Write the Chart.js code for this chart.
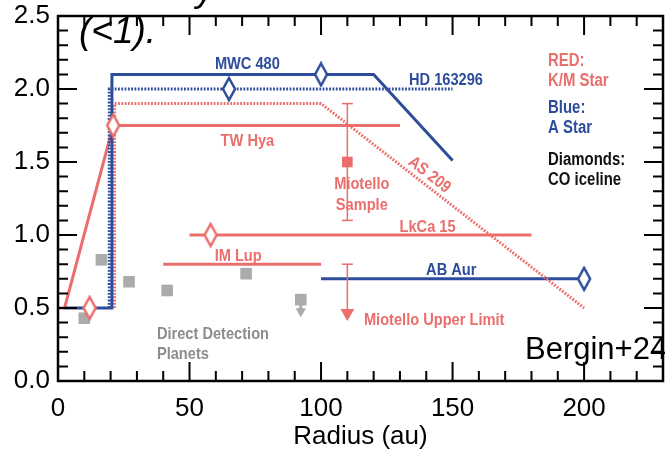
<!DOCTYPE html>
<html>
<head>
<meta charset="utf-8">
<script src="https://cdn.jsdelivr.net/npm/chart.js@4.4.1/dist/chart.umd.min.js"></script>
<style>
  html, body { margin: 0; padding: 0; background: #fff; overflow: hidden; }
  #wrap { width: 665px; height: 456px; overflow: hidden; }
</style>
</head>
<body>
<div id="wrap"><canvas id="grafica" width="672" height="456"></canvas></div>
<script>
// Radius (au) y valor
const mwc480R = [2.5, 20.5, 20.5, 120, 150];
const mwc480V = [0.5, 0.5, 2.1, 2.1, 1.51];
const hd163296R = [19.5, 19.5, 150];
const hd163296V = [0.5, 2.0, 2.0];
const as209R = [21.5, 21.5, 100, 200];
const as209V = [0.5, 1.9, 1.9, 0.5];
const twHyaR = [0, 2.5, 21, 130];
const twHyaV = [0.5, 0.5, 1.75, 1.75];
const lkca15R = [50, 180];
const lkca15V = [1.0, 1.0];
const imLupR = [40, 100];
const imLupV = [0.8, 0.8];
const abAurR = [100, 200];
const abAurV = [0.7, 0.7];

// diamantes: CO iceline
const icelineAzulR = [65, 100, 200];
const icelineAzulV = [2.0, 2.1, 0.7];
const icelineRojoR = [12, 21, 58];
const icelineRojoV = [0.5, 1.75, 1.0];

// Miotello: muestra con barra de error y limite superior
const miotelloR = [110];
const miotelloV = [1.5];
const miotelloErr = [1.1, 1.9];
const miotelloLimite = [0.8, 0.465];

// planetas de deteccion directa
const planetaR = [10, 16.5, 27, 41.5, 71.5, 92.3];
const planetaV = [0.43, 0.83, 0.68, 0.62, 0.735, 0.557];
const planetaLimite = [0.557, 0.478];

const xTicks = [0, 50, 100, 150, 200];
const yTicks = [0, 0.5, 1.0, 1.5, 2.0, 2.5];

const rojo = "#EA6E6C";
const azul = "#2D4C9C";
const gris = "#ABABAB";
const grisTexto = "#8C8C8C";
const FUENTE = "'Liberation Sans', Arial, Helvetica, sans-serif";

const pts = (xs, ys) => xs.map((x, i) => ({ x, y: ys[i] }));

// diamante alargado (CO iceline)
function diamante(color) {
  const c = document.createElement("canvas");
  c.width = 16; c.height = 26;
  const g = c.getContext("2d");
  g.beginPath();
  g.moveTo(8, 2); g.lineTo(14, 13); g.lineTo(8, 24); g.lineTo(2, 13); g.closePath();
  g.fillStyle = "#fff";
  g.fill();
  g.lineWidth = 2.5;
  g.strokeStyle = color;
  g.stroke();
  return c;
}

function linea(data, color, dash) {
  return {
    data, showLine: true, borderColor: color, borderWidth: 3,
    borderDash: dash || [], pointRadius: 0, borderJoinStyle: "miter",
    tension: 0, order: 5
  };
}

const etiquetas = [
  { t: "MWC 480", x: 72, y: 2.18, c: azul },
  { t: "HD 163296", x: 147.5, y: 2.07, c: azul },
  { t: "TW Hya", x: 72, y: 1.65, c: rojo },
  { t: "AS 209", x: 141.5, y: 1.42, c: rojo, rot: 37.5 },
  { t: "Miotello", x: 115.5, y: 1.36, c: rojo },
  { t: "Sample", x: 115.5, y: 1.21, c: rojo },
  { t: "LkCa 15", x: 140.5, y: 1.06, c: rojo },
  { t: "IM Lup", x: 68.5, y: 0.865, c: rojo },
  { t: "AB Aur", x: 149.5, y: 0.77, c: azul },
  { t: "Miotello Upper Limit", x: 143, y: 0.427, c: rojo },
  { t: "Direct Detection", x: 37.6, y: 0.333, c: grisTexto, izq: true },
  { t: "Planets", x: 37.6, y: 0.193, c: grisTexto, izq: true },
  { t: "RED:", x: 186.3, y: 2.203, c: rojo, izq: true, g: true },
  { t: "K/M Star", x: 186.3, y: 2.064, c: rojo, izq: true, g: true },
  { t: "Blue:", x: 186.3, y: 1.88, c: azul, izq: true, g: true },
  { t: "A Star", x: 186.3, y: 1.742, c: azul, izq: true, g: true },
  { t: "Diamonds:", x: 186.3, y: 1.527, c: "#111", izq: true, g: true },
  { t: "CO iceline", x: 186.3, y: 1.39, c: "#111", izq: true, g: true }
];

const textos = {
  id: "textos",
  afterDatasetsDraw(chart) {
    const { ctx, scales: { x, y } } = chart;
    ctx.save();
    etiquetas.forEach(e => {
      const size = e.g ? 18 : 17;
      ctx.save();
      ctx.translate(x.getPixelForValue(e.x), y.getPixelForValue(e.y));
      if (e.rot) ctx.rotate(e.rot * Math.PI / 180);
      ctx.scale(e.g ? 0.83 : 0.86, 1);
      ctx.font = "bold " + size + "px " + FUENTE;
      ctx.fillStyle = e.c;
      ctx.textAlign = e.izq ? "left" : "center";
      ctx.textBaseline = "alphabetic";
      ctx.fillText(e.t, 0, size * 0.36);
      ctx.restore();
    });
    ctx.restore();
  }
};

// marco con marcas hacia dentro en los cuatro lados
const marco = {
  id: "marco",
  afterDraw(chart) {
    const { ctx, chartArea: a, scales: { x, y } } = chart;
    ctx.save();
    ctx.strokeStyle = "#000";
    ctx.lineWidth = 2;
    ctx.beginPath();
    for (let v = 0; v <= x.max + 1e-6; v += 10) {
      const px = x.getPixelForValue(v);
      const l = v % 50 === 0 ? 19 : 10;
      ctx.moveTo(px, a.bottom); ctx.lineTo(px, a.bottom - l);
      ctx.moveTo(px, a.top); ctx.lineTo(px, a.top + l);
    }
    for (let i = 0; i <= Math.round(y.max * 10); i++) {
      const py = y.getPixelForValue(i / 10);
      const l = i % 5 === 0 ? 19 : 10;
      ctx.moveTo(a.left, py); ctx.lineTo(a.left + l, py);
      ctx.moveTo(a.right, py); ctx.lineTo(a.right - l, py);
    }
    ctx.stroke();
    ctx.lineWidth = 2.5;
    ctx.strokeRect(a.left, a.top, a.right - a.left, a.bottom - a.top);

    ctx.fillStyle = "#000";
    ctx.font = "italic 37px " + FUENTE;
    ctx.fillText("(<1).", 79, 43);
    ctx.fillText("y", 196, 1);
    ctx.font = "31px " + FUENTE;
    ctx.fillText("Bergin+24", 525, 359);
    ctx.restore();
  }
};

const ctx = document.getElementById("grafica").getContext("2d");
new Chart(ctx, {
  type: "scatter",
  data: {
    datasets: [
      // diamantes y marcadores encima
      { data: pts(icelineAzulR, icelineAzulV), pointStyle: diamante(azul), pointRadius: 8, order: 0 },
      { data: pts(icelineRojoR, icelineRojoV), pointStyle: diamante(rojo), pointRadius: 8, order: 0 },
      {
        data: pts(planetaR, planetaV), pointStyle: "rect", pointRadius: 8.2,
        pointBackgroundColor: gris, pointBorderWidth: 0, order: 2
      },
      {
        data: pts([planetaR[5], planetaR[5]], planetaLimite), showLine: true,
        borderColor: gris, borderWidth: 3, pointStyle: ["rect", "triangle"],
        pointRotation: [0, 180], pointRadius: [0, 6], pointBorderWidth: 0,
        pointBackgroundColor: gris, order: 2
      },
      {
        data: pts(miotelloR, miotelloV), pointStyle: "rect", pointRadius: 7.5,
        pointBackgroundColor: rojo, pointBorderWidth: 0, order: 2
      },
      {
        data: pts([miotelloR[0], miotelloR[0]], miotelloErr), showLine: true,
        borderColor: rojo, borderWidth: 1.5, pointStyle: "line", pointRadius: 5.5,
        pointBorderColor: rojo, pointBorderWidth: 1.5, order: 3
      },
      {
        data: pts([miotelloR[0], miotelloR[0]], miotelloLimite), showLine: true,
        borderColor: rojo, borderWidth: 1.5, pointStyle: ["line", "triangle"],
        pointRotation: [0, 180], pointRadius: [5.5, 8], pointBorderColor: rojo,
        pointBorderWidth: [1.5, 0], pointBackgroundColor: rojo, order: 3
      },
      // curvas
      linea(pts(mwc480R, mwc480V), azul),
      linea(pts(hd163296R, hd163296V), azul, [1.8, 1.5]),
      linea(pts(as209R, as209V), rojo, [1.8, 1.5]),
      linea(pts(twHyaR, twHyaV), rojo),
      linea(pts(lkca15R, lkca15V), rojo),
      linea(pts(imLupR, imLupV), rojo),
      linea(pts(abAurR, abAurV), azul)
    ]
  },
  options: {
    responsive: false,
    animation: false,
    layout: { padding: { top: 16, right: 4, left: 0, bottom: 0 } },
    plugins: { legend: { display: false }, tooltip: { enabled: false } },
    scales: {
      x: {
        type: "linear", min: 0, max: 230,
        grid: { display: false, drawTicks: false }, border: { display: false },
        afterBuildTicks: s => { s.ticks = xTicks.map(v => ({ value: v })); },
        afterFit: s => { s.height = 75; s.paddingLeft = 0; s.paddingRight = 0; },
        ticks: { color: "#000", font: { family: FUENTE, size: 26 }, padding: 12, maxRotation: 0 },
        title: { display: true, text: "Radius (au)", color: "#000", font: { family: FUENTE, size: 26 }, padding: { top: 2 } }
      },
      y: {
        type: "linear", min: 0, max: 2.5,
        grid: { display: false, drawTicks: false }, border: { display: false },
        afterBuildTicks: s => { s.ticks = yTicks.map(v => ({ value: v })); },
        afterFit: s => { s.width = 58; s.paddingTop = 0; s.paddingBottom = 0; },
        ticks: { color: "#000", font: { family: FUENTE, size: 26 }, padding: 8, callback: v => v.toFixed(1) }
      }
    }
  },
  plugins: [textos, marco]
});
</script>
</body>
</html>
